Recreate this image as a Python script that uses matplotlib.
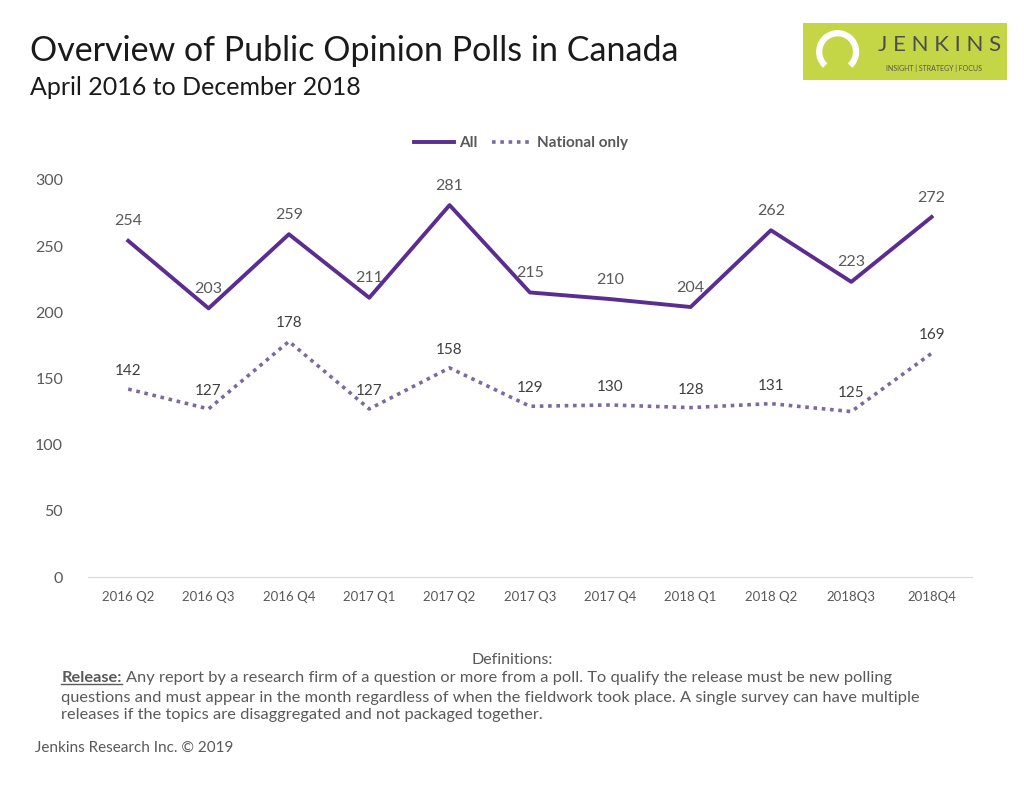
import matplotlib.pyplot as plt
from matplotlib.patches import Rectangle, Arc

quarters = ["2016 Q2", "2016 Q3", "2016 Q4", "2017 Q1", "2017 Q2", "2017 Q3",
            "2017 Q4", "2018 Q1", "2018 Q2", "2018Q3", "2018Q4"]
all_polls = [254, 203, 259, 211, 281, 215, 210, 204, 262, 223, 272]
national = [142, 127, 178, 127, 158, 129, 130, 128, 131, 125, 169]

purple = "#5c2d91"
purple_dot = "#7b6a9e"
grey = "#595959"

plt.rcParams.update({"font.family": ["Lato", "DejaVu Sans"]})

fig = plt.figure(figsize=(10.24, 7.91), dpi=100)
ax = fig.add_axes([0.086, 0.2705, 0.863, 0.502])

x = range(len(quarters))
ax.plot(x, all_polls, color=purple, lw=2.8, label="All")
ax.plot(x, national, color=purple_dot, lw=2.6, ls=(0, (1, 1.3)), label="National only")

for i, v in enumerate(all_polls):
    ax.annotate(str(v), (i, v), xytext=(0, 9), textcoords="offset points",
                ha="center", va="bottom", fontsize=11.5, color=grey)
for i, v in enumerate(national):
    ax.annotate(str(v), (i, v), xytext=(0, 8), textcoords="offset points",
                ha="center", va="bottom", fontsize=11, color="#404040")

ax.set_xlim(-0.5, len(quarters) - 0.5)
ax.set_ylim(0, 300)
ax.set_yticks(range(0, 301, 50))
ax.set_xticks(list(x))
ax.set_xticklabels(quarters)
ax.tick_params(axis="both", length=0, colors=grey)
ax.tick_params(axis="y", labelsize=11.5, pad=18)
ax.tick_params(axis="x", labelsize=9.5, pad=10)
for s in ["top", "right", "left"]:
    ax.spines[s].set_visible(False)
ax.spines["bottom"].set_color("#d9d9d9")

leg = ax.legend(loc="lower center", bbox_to_anchor=(0.49, 1.04), ncol=2, frameon=False,
                handlelength=2.6, columnspacing=1.0, handletextpad=0.3,
                prop={"weight": "bold", "size": 11})
for t in leg.get_texts():
    t.set_color(grey)

fig.text(0.029, 0.936, "Overview of Public Opinion Polls in Canada", fontsize=24.5,
         color="#1a1a1a", va="center")
fig.text(0.029, 0.889, "April 2016 to December 2018", fontsize=18,
         color="#1a1a1a", va="center")

# logo
fig.patches.append(Rectangle((0.784, 0.899), 0.199, 0.072, transform=fig.transFigure,
                             facecolor="#c4d646", edgecolor="none"))
fig.patches.append(Arc((0.818, 0.9345), 0.036, 0.047, theta1=-55, theta2=235,
                       transform=fig.transFigure, color="white", lw=4.5))
fig.text(0.918, 0.943, "J E N K I N S", fontsize=16, color="#4d4d4d", va="center",
         ha="center")
fig.text(0.912, 0.914, "INSIGHT | STRATEGY | FOCUS", fontsize=5, color="#555555",
         va="center", ha="center")

fig.text(0.5, 0.166, "Definitions:", fontsize=11.5, color=grey, ha="center", va="center")
rel = fig.text(0.060, 0.152, "Release:", fontsize=11.8, color=grey, va="top",
               fontweight="bold")
fig.canvas.draw()
bb = rel.get_window_extent().transformed(fig.transFigure.inverted())
fig.add_artist(plt.Line2D([bb.x0, bb.x1], [bb.y0 + 0.001, bb.y0 + 0.001],
                          transform=fig.transFigure, color=grey, lw=1))
fig.text(bb.x1 + 0.004, 0.152,
         "Any report by a research firm of a question or more from a poll. "
         "To qualify the release must be new polling",
         fontsize=11.8, color=grey, va="top")
defs = ("questions and must appear in the month regardless of when the fieldwork took place. "
        "A single survey can have multiple\n"
        "releases if the topics are disaggregated and not packaged together.")
fig.text(0.060, 0.127, defs, fontsize=11.8, color=grey, va="top", linespacing=1.32)
fig.text(0.034, 0.054, "Jenkins Research Inc. \u00a9 2019", fontsize=11, color=grey, va="center")

fig.savefig("out.png", dpi=100)
